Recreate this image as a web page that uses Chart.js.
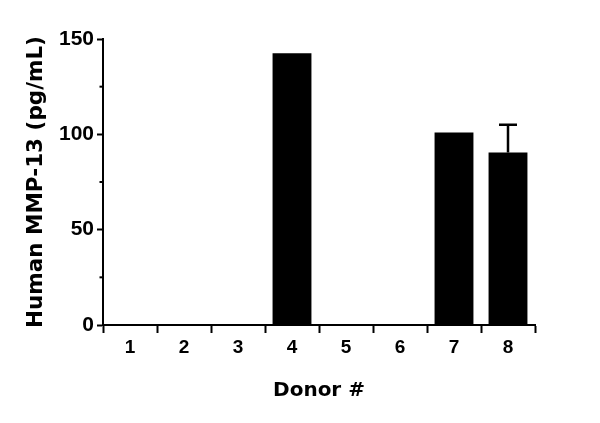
<!DOCTYPE html>
<html>
<head>
<meta charset="utf-8">
<script src="https://cdn.jsdelivr.net/npm/chart.js@4.4.1/dist/chart.umd.min.js"></script>
<style>
  html, body { margin: 0; padding: 0; background: #fff; }
  #wrap { width: 600px; height: 423px; }
</style>
</head>
<body>
<div id="wrap"><canvas id="c" width="600" height="423"></canvas></div>
<script>
const donors = ['1', '2', '3', '4', '5', '6', '7', '8'];
const mmp13 = [0, 0, 0, 142.5, 0, 0, 101, 90.5];
const errUp = [0, 0, 0, 0, 0, 0, 0, 14.5];
const yMajorTicks = [0, 50, 100, 150];
const yMinorTicks = [25, 75, 125];
const xTitle = 'Donor #';
const yTitle = 'Human MMP-13 (pg/mL)';

const TICK_FONT = '"Liberation Sans", Arial, sans-serif';
const TITLE_FONT = '"DejaVu Sans", sans-serif';

const extrasPlugin = {
  id: 'extras',
  afterDatasetsDraw(chart) {
    const ctx = chart.ctx;
    const y = chart.scales.y;
    const meta = chart.getDatasetMeta(0);
    ctx.save();
    ctx.strokeStyle = '#000';
    ctx.lineWidth = 2.5;
    meta.data.forEach((bar, i) => {
      const e = errUp[i];
      if (!e) return;
      const px = bar.x;
      const yTop = y.getPixelForValue(mmp13[i] + e);
      const yBase = y.getPixelForValue(mmp13[i]);
      ctx.beginPath();
      ctx.moveTo(px, yBase);
      ctx.lineTo(px, yTop);
      ctx.moveTo(px - 9, yTop);
      ctx.lineTo(px + 9, yTop);
      ctx.stroke();
    });
    ctx.lineWidth = 2;
    yMinorTicks.forEach(v => {
      const py = y.getPixelForValue(v);
      ctx.beginPath();
      ctx.moveTo(chart.chartArea.left - 3.5, py);
      ctx.lineTo(chart.chartArea.left, py);
      ctx.stroke();
    });
    ctx.restore();
  }
};

new Chart(document.getElementById('c'), {
  type: 'bar',
  data: {
    labels: donors,
    datasets: [{
      data: mmp13,
      backgroundColor: '#000',
      borderWidth: 0,
      barPercentage: 0.72,
      categoryPercentage: 1.0
    }]
  },
  options: {
    responsive: false,
    animation: false,
    devicePixelRatio: 1,
    layout: { padding: { left: 0, right: 65, top: 39, bottom: 0 } },
    plugins: { legend: { display: false }, tooltip: { enabled: false } },
    scales: {
      x: {
        afterFit(s) { s.height = 98; },
        grid: { display: true, drawOnChartArea: false, tickLength: 8, tickWidth: 2, tickColor: '#000' },
        border: { display: true, color: '#000', width: 2 },
        ticks: { color: '#000', font: { family: TICK_FONT, size: 19, weight: 'bold' }, padding: 3, maxRotation: 0 },
        title: { display: true, text: xTitle, color: '#000', font: { family: TITLE_FONT, size: 20, weight: 'bold' }, padding: { top: 0, bottom: 20 } }
      },
      y: {
        min: 0, max: 150,
        afterFit(s) { s.width = 103; },
        afterBuildTicks(s) { s.ticks = yMajorTicks.map(v => ({ value: v })); },
        grid: { display: true, drawOnChartArea: false, tickLength: 6, tickWidth: 2, tickColor: '#000' },
        border: { display: true, color: '#000', width: 2 },
        ticks: { color: '#000', font: { family: TICK_FONT, size: 21, weight: 'bold' }, padding: 3 },
        title: { display: true, text: yTitle, color: '#000', font: { family: TITLE_FONT, size: 21.5, weight: 'bold' }, padding: { top: 24, bottom: 0 } }
      }
    }
  },
  plugins: [extrasPlugin]
});
</script>
</body>
</html>
